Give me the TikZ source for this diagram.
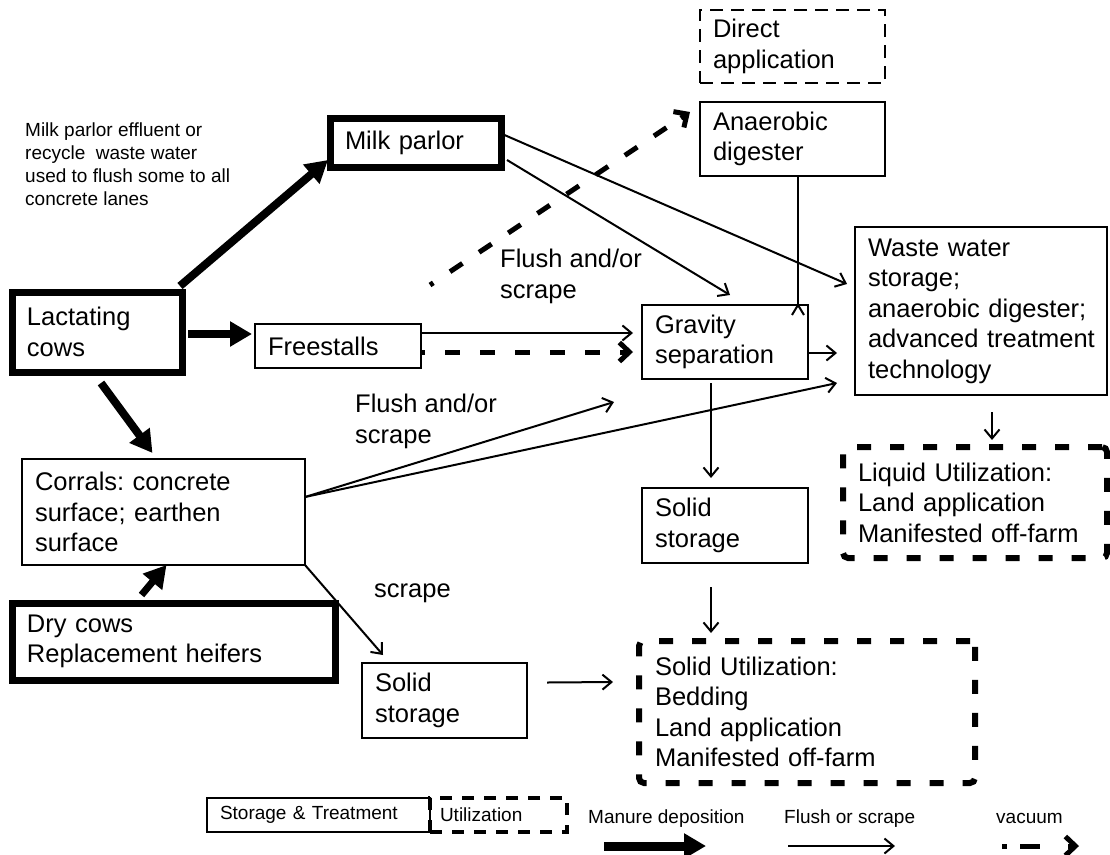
\documentclass[tikz,border=0pt]{standalone}
\usepackage{fontspec}
\setmainfont{Liberation Sans}
\usetikzlibrary{arrows.meta,calc}
\newcommand{\mainsz}{\fontsize{25.5pt}{30.5pt}\selectfont}
\newcommand{\smallsz}{\fontsize{19pt}{22.7pt}\selectfont}
\newcommand{\legsz}{\fontsize{19pt}{22.7pt}\selectfont}
\begin{document}
\begin{tikzpicture}[x=1pt,y=-1pt,
  every node/.append style={execute at begin node={\hyphenpenalty=10000\exhyphenpenalty=10000\hbadness=10000\hfuzz=50pt}},
  box/.style={draw, line width=2pt, outer sep=0pt, inner xsep=13pt, inner ysep=0pt,
    align=left, anchor=north west, font=\mainsz},
  thickbox/.style={box, line width=7pt, inner xsep=15pt},
  dashbox/.style={box, line width=1.5pt, dash pattern=on 13pt off 8pt},
  utilbox/.style={box, line width=6pt, dash pattern=on 14pt off 19pt, rounded corners=5pt, inner xsep=15pt},
  legbox/.style={box, font=\legsz},
  legdash/.style={legbox, line width=4pt, dash pattern=on 12pt off 10pt, inner xsep=10pt},
  lab/.style={inner sep=0pt, align=left, font=\mainsz},
  flow/.style={line width=2pt, -{Straight Barb[length=9pt,width=15pt]}},
  manure/.style={line width=8pt, -{Triangle[length=22pt,width=24pt]}},
  vacline/.style={line width=5pt, dash pattern=on 15pt off 20pt, dash phase=11pt, shorten >=10pt},
  vachead/.style={line width=5pt, solid, miter limit=20, -{Straight Barb[length=10pt,width=19pt]}},
  vacseg/.style={line width=5pt, solid}
]
\fill[white] (0,0) rectangle (1110,854);
\useasboundingbox (0,0) rectangle (1110,854);

% boxes
\node[dashbox, minimum width=185pt, minimum height=73pt, text width=159pt] (direct) at (700,10) {Direct\\application};
\node[box, minimum width=185pt, minimum height=74pt, text width=159pt] (dig) at (700,102) {Anaerobic\\digester};
\node[thickbox, minimum width=171pt, minimum height=49pt, text width=141pt] (milk) at (330,118) {Milk~parlor};
\node[thickbox, minimum width=170pt, minimum height=80pt, text width=140pt] (lact) at (12,292) {Lactating\\cows};
\node[box, minimum width=166pt, minimum height=44pt, text width=140pt] (free) at (255,324) {Freestalls};
\node[box, minimum width=166pt, minimum height=74pt, text width=140pt] (grav) at (642,305) {Gravity\\separation};
\node[box, minimum width=252pt, minimum height=168pt, text width=226pt] (ww) at (855,227)
  {Waste~water\\storage;\\anaerobic~digester;\\advanced~treatment\\technology};
\node[utilbox, minimum width=264pt, minimum height=111pt, text width=234pt] (liq) at (843,447)
  {Liquid~Utilization:\\Land~application\\Manifested~off-farm};
\node[box, minimum width=283pt, minimum height=106pt, text width=257pt] (corr) at (22,459)
  {Corrals:~concrete\\surface;~earthen\\surface};
\node[thickbox, minimum width=323pt, minimum height=77pt, text width=293pt] (dry) at (12,603)
  {Dry~cows\\Replacement~heifers};
\node[box, minimum width=166pt, minimum height=75pt, text width=140pt] (sol1) at (642,488) {Solid\\storage};
\node[box, minimum width=165pt, minimum height=75pt, text width=139pt] (sol2) at (362,663) {Solid\\storage};
\node[utilbox, minimum width=336pt, minimum height=142pt, text width=304pt, inner xsep=16pt] (solu) at (639,641)
  {Solid~Utilization:\\Bedding\\Land~application\\Manifested~off-farm};

% legend boxes
\node[legbox, minimum width=223pt, minimum height=34pt, text width=197pt] (leg1) at (207,798) {Storage~\&~Treatment};
\node[legdash, minimum width=137pt, minimum height=34pt, text width=117pt] (leg2) at (430,798) {Utilization};

% labels
\node[lab, font=\smallsz, anchor=north west] (note) at (25,123)
  {Milk~parlor~effluent~or\\recycle\ \ waste~water\\used~to~flush~some~to~all\\concrete~lanes};
\node[lab, anchor=north west] (fs1) at (500,249) {Flush~and/or\\scrape};
\node[lab, anchor=north west] (fs2) at (355,394) {Flush~and/or\\scrape};
\node[lab, anchor=base west] (scr) at (374,597) {scrape};
\node[lab, font=\legsz, anchor=base west] (lm) at (588,823) {Manure deposition};
\node[lab, font=\legsz, anchor=base west] (lf) at (784,823) {Flush or scrape};
\node[lab, font=\legsz, anchor=base west] (lv) at (996,823) {vacuum};

% manure deposition arrows
\draw[manure] ($(lact.north east)+(-2,-6)$) -- ($(milk.south west)+(-2,-7)$);
\draw[manure] ($(lact.east)+(6,2)$) -- ($(free.west)+(-3,-12)$);
\draw[manure] ($(lact.south)+(4,11)$) -- ($(corr.north)+(-11,-6)$);
\draw[manure, line width=7pt] ($(dry.north)+(-32,-8)$) -- ($(corr.south)+(3,0)$);

% flush / scrape arrows
\draw[flow] ($(free.east)+(0,-13)$) -- ($(grav.west)+(-9,-9)$);
\coordinate (fv1) at ($(free.east)+(0,6)$);
\coordinate (fv2) at ($(grav.west)+(-9,10)$);
\draw[vacline] (fv1) -- (fv2);
\draw[vachead] ($(fv2)!10pt!(fv1)$) -- (fv2);
\draw[flow] ($(milk.south east)+(6,-7)$) -- ($(grav.north)+(5,-10)$);
\draw[flow] ($(milk.east)+(0,-9)$) -- ($(ww.west)+(-8,-27)$);
\coordinate (vs) at (430,285);
\coordinate (ve) at ($(dig.west)+(-10,-27)$);
\draw[vacline, shorten >=14pt] (vs) -- (ve);
\draw[vachead] ($(ve)!11pt!(vs)$) -- (ve);
\draw[line width=2pt] ($(dig.south)+(5.5,0)$) -- ($(grav.north east)+(-10,0)$);
\draw[line width=2pt] ($(grav.north east)+(-16,10)$) -- ($(grav.north east)+(-10,0)$) -- ($(grav.north east)+(-4,10)$);
\draw[flow] ($(grav.east)+(0,11)$) -- ($(ww.west)+(-18,42)$);
\draw[flow] ($(corr.east)+(0,-15)$) -- ($(grav.south west)+(-28,23)$);
\draw[flow] ($(corr.east)+(0,-15)$) -- ($(ww.south west)+(-18,-12)$);
\draw[flow] (corr.south east) -- ($(sol2.north west)+(21,-8)$);
\draw[flow] ($(grav.south)+(-14,4)$) -- ($(sol1.north)+(-14,-10)$);
\draw[flow] ($(ww.south)+(11,17)$) -- ($(liq.north)+(17,-7)$);
\draw[flow] ($(sol1.south)+(-14,24)$) -- ($(solu.north west)+(72,-8)$);
\draw[flow] ($(sol2.east)+(20,-18)$) -- ($(solu.west)+(-26,-30)$);

% legend arrows
\coordinate (m1) at (604,846); \coordinate (m2) at (706,846);
\coordinate (f1) at (788,846); \coordinate (f2) at (895,846);
\coordinate (v1) at (1002,846); \coordinate (v2) at (1079,846);
\draw[manure, line width=9pt] (m1) -- (m2);
\draw[flow] (f1) -- (f2);
\draw[vacseg] (v1) -- ($(v1)+(5,0)$);
\draw[vacseg] ($(v1)+(18,0)$) -- ($(v1)+(38,0)$);
\draw[vachead] ($(v2)!11pt!(v1)$) -- (v2);
\end{tikzpicture}
\end{document}
